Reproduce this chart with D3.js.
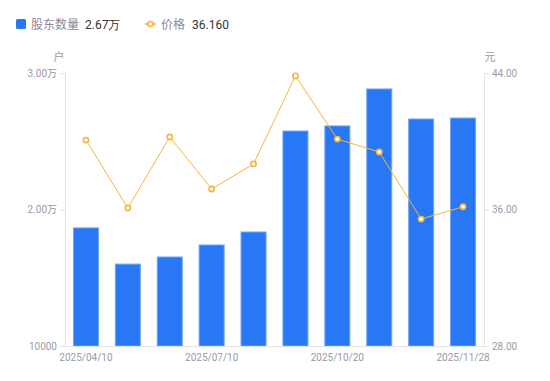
<!DOCTYPE html>
<html><head><meta charset="utf-8">
<script src="https://cdn.jsdelivr.net/npm/d3@7/dist/d3.min.js"></script>
<style>
html,body{margin:0;padding:0;background:#fff;}
svg{display:block;font-family:"Noto Sans CJK SC","Noto Sans",sans-serif;}
</style></head>
<body><div id="chart"></div>
<script>
const categories = ["2025/04/10","2025/05/09","2025/06/10","2025/07/10","2025/08/20","2025/09/30","2025/10/20","2025/10/31","2025/11/10","2025/11/28"];
const holders = [18650, 16000, 16520, 17400, 18350, 25750, 26120, 28830, 26630, 26700];
const prices = [40.07, 36.09, 40.25, 37.20, 38.67, 43.83, 40.13, 39.37, 35.44, 36.16];
const leftTicks = [10000, 20000, 30000];
const rightTicks = [28, 36, 44];
const shownLabels = ["2025/04/10","2025/07/10","2025/10/20","2025/11/28"];

const W = 550, H = 381;
const m = {left: 65, right: 66, top: 73, bottom: 35};
const svg = d3.select("#chart").append("svg").attr("width", W).attr("height", H);

const xc = d3.scaleBand().domain(categories).range([m.left, W - m.right]);
const yL = d3.scaleLinear().domain([10000, 30000]).range([H - m.bottom, m.top]);
const yR = d3.scaleLinear().domain([28, 44]).range([H - m.bottom, m.top]);

const axisColor = "#e3e3e3", textColor = "#9a9aa8";

// bars
svg.append("g").selectAll("rect").data(holders).join("rect")
  .attr("x", (d,i) => xc(categories[i]) + xc.bandwidth()/2 - 12.5)
  .attr("width", 25)
  .attr("y", d => yL(d))
  .attr("height", d => yL(10000) - yL(d))
  .attr("fill", "#2878f5")
  .attr("stroke", "#6fa3f8").attr("stroke-width", 1);

// left axis
const fmtL = d => d >= 20000 ? (d/10000).toFixed(2) + "万" : String(d);
const gL = svg.append("g").attr("transform", `translate(${m.left},0)`)
  .call(d3.axisLeft(yL).tickValues(leftTicks).tickFormat(fmtL).tickSize(5).tickPadding(3));
// right axis
const gR = svg.append("g").attr("transform", `translate(${W - m.right},0)`)
  .call(d3.axisRight(yR).tickValues(rightTicks).tickFormat(d => d.toFixed(2)).tickSize(5).tickPadding(3));
// bottom axis
const gB = svg.append("g").attr("transform", `translate(0,${H - m.bottom})`)
  .call(d3.axisBottom(xc).tickValues(shownLabels).tickSize(0).tickPadding(8));
gB.selectAll(".tick text").attr("text-anchor", "middle");

[gL, gR, gB].forEach(g => {
  g.select(".domain").attr("stroke", axisColor);
  g.selectAll(".tick line").attr("stroke", axisColor);
  g.selectAll(".tick text").attr("fill", textColor).attr("font-size", 10).attr("font-family", "Roboto, 'Noto Sans CJK SC', sans-serif");
});
gB.selectAll(".tick text").attr("dy", "0.71em");

// unit labels
svg.append("text").attr("x", 59).attr("y", 61).attr("text-anchor", "middle")
  .attr("font-size", 11).attr("fill", textColor).text("户");
svg.append("text").attr("x", 490).attr("y", 61).attr("text-anchor", "middle")
  .attr("font-size", 11).attr("fill", textColor).text("元");

// line
const cx = i => xc(categories[i]) + xc.bandwidth()/2;
const line = d3.line().x((d,i) => cx(i)).y(d => yR(d));
svg.append("path").datum(prices).attr("d", line)
  .attr("fill", "none").attr("stroke", "#f7b53a").attr("stroke-width", 1);
svg.append("g").selectAll("circle").data(prices).join("circle")
  .attr("cx", (d,i) => cx(i)).attr("cy", d => yR(d)).attr("r", 2.6)
  .attr("fill", "#fff").attr("stroke", "#f7b53a").attr("stroke-width", 1.6);

// legend
const lg = svg.append("g").attr("font-size", 12);
lg.append("rect").attr("x", 16).attr("y", 19).attr("width", 10).attr("height", 10).attr("rx", 1.5).attr("fill", "#2878f5");
lg.append("text").attr("x", 31).attr("y", 28.5).attr("fill", "#8a8a99").text("股东数量");
lg.append("text").attr("x", 85).attr("y", 28.5).attr("fill", "#333").attr("font-family", "Roboto, sans-serif").text("2.67万");
lg.append("line").attr("x1", 145).attr("x2", 156).attr("y1", 24).attr("y2", 24).attr("stroke", "#f7b53a").attr("stroke-width", 1.5);
lg.append("circle").attr("cx", 150.5).attr("cy", 24).attr("r", 2.5).attr("fill", "#fff").attr("stroke", "#f7b53a").attr("stroke-width", 1.6);
lg.append("text").attr("x", 161).attr("y", 28.5).attr("fill", "#8a8a99").text("价格");
lg.append("text").attr("x", 192).attr("y", 28.5).attr("fill", "#333").attr("font-family", "Roboto, sans-serif").text("36.160");
</script>
</body></html>
